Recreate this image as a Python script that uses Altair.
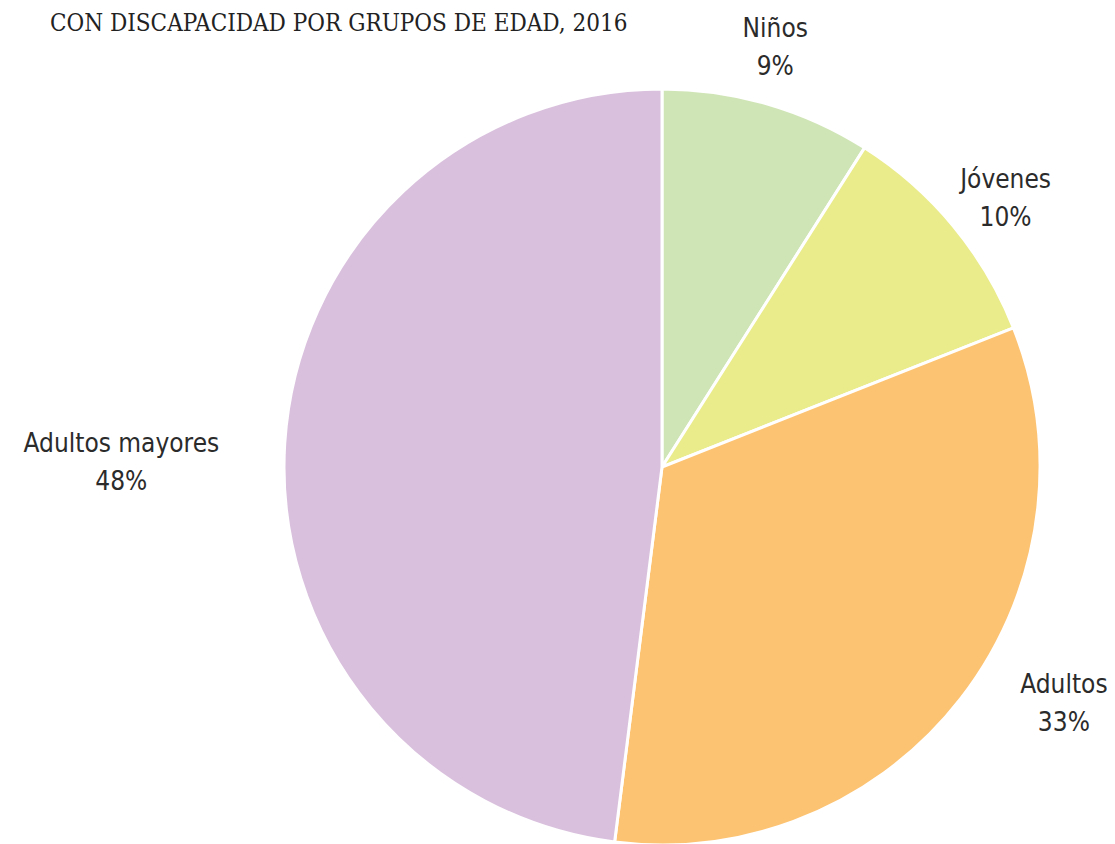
import altair as alt
import pandas as pd

categories = ["Niños", "Jóvenes", "Adultos", "Adultos mayores"]
values = [9, 10, 33, 48]
order = [1, 2, 3, 4]
colors = ["#d0e5b6", "#eaeb8b", "#fcc373", "#d9c0dd"]
title_text = "CON DISCAPACIDAD POR GRUPOS DE EDAD, 2016"

df = pd.DataFrame({"cat": categories, "value": values, "order": order})

W, H = 1099, 836
CX, CY, R = 654, 459, 378

color_scale = alt.Scale(domain=categories, range=colors)

base = alt.Chart(df)

pie = base.mark_arc(outerRadius=R, stroke="white", strokeWidth=3).encode(
    theta=alt.Theta("value:Q", stack=True),
    order=alt.Order("order:Q"),
    color=alt.Color("cat:N", scale=color_scale, legend=None),
    x=alt.value(CX),
    y=alt.value(CY),
)

# label placement: outside the pie, pushed outward according to label width
labels = base.transform_joinaggregate(
    total="sum(value)"
).transform_window(
    cum="sum(value)", sort=[alt.SortField("order")], frame=[None, 0]
).transform_calculate(
    mid="(datum.cum - datum.value/2) / datum.total * 2 * PI"
).transform_calculate(
    s="sin(datum.mid)",
    c="cos(datum.mid)",
).transform_calculate(
    rx="392 + 10 * length(datum.cat) * abs(datum.s) + 100 * max(0, -datum.c)",
    ry="458 - 180 * max(0, -datum.c)",
).transform_calculate(
    lx=f"{CX} + datum.rx * datum.s",
    ly=f"{CY} - datum.ry * datum.c + 6 * abs(datum.s)",
    lab="datum.cat + '\\n' + datum.value + '%'",
).mark_text(
    font="'DejaVu Sans Condensed', 'Roboto Condensed', Roboto, sans-serif",
    fontSize=26,
    fontWeight=300,
    lineHeight=38,
    lineBreak="\n",
    color="#2b2b2b",
    align="center",
    baseline="middle",
).encode(
    x=alt.X("lx:Q", scale=None, axis=None),
    y=alt.Y("ly:Q", scale=None, axis=None),
    text="lab:N",
)

title = alt.Chart(pd.DataFrame({"t": [title_text]})).mark_text(
    font="'DejaVu Serif Condensed', 'Liberation Serif', serif",
    fontSize=24,
    align="left",
    baseline="alphabetic",
    color="#222222",
).encode(x=alt.value(42), y=alt.value(23), text="t:N")

chart = alt.layer(pie, labels, title).properties(
    width=W, height=H, padding=0, autosize=alt.AutoSizeParams(type="none")
).configure_view(stroke=None)

chart.save("out.html", embed_options={"renderer": "svg", "actions": False})
